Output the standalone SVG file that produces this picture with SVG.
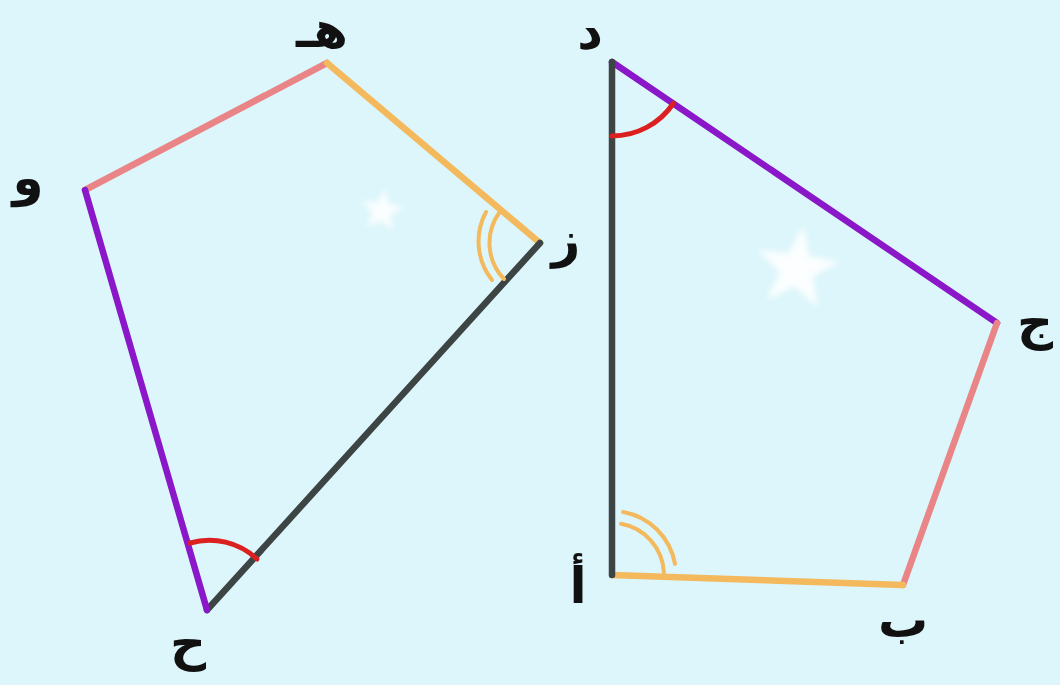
<svg xmlns="http://www.w3.org/2000/svg" xmlns:xlink="http://www.w3.org/1999/xlink" width="1060" height="685" viewBox="0 0 1060 685">
<style>
.edge{fill:none;stroke-width:6.5;stroke-linecap:round;stroke-linejoin:round}
.pink{stroke:#ea8587}
.orange{stroke:#f3b95c}
.purple{stroke:#8a17c8}
.dark{stroke:#3c4444}
.mark{fill:none;stroke-linecap:round}
.red{stroke:#dc1f1f;stroke-width:5}
.dbl{stroke:#f3b95c;stroke-width:4}
.lbl{font-family:"DejaVu Sans",sans-serif;font-weight:bold;font-size:50px;fill:#111;text-anchor:middle;dominant-baseline:central}
</style>
<defs>
<polygon id="star" points="0,-1 0.235,-0.324 0.951,-0.309 0.380,0.124 0.588,0.809 0,0.4 -0.588,0.809 -0.380,0.124 -0.951,-0.309 -0.235,-0.324"/>
<filter id="soft" x="-30%" y="-30%" width="160%" height="160%"><feGaussianBlur stdDeviation="3"/></filter>
</defs>
<rect width="1060" height="685" fill="#dcf6fb"/>
<g filter="url(#soft)" fill="#ffffff" opacity="0.9">
<use xlink:href="#star" transform="translate(382,211) rotate(8) scale(23)"/>
<use xlink:href="#star" transform="translate(797,269) rotate(8) scale(44)"/>
</g>
<g id="connectors">
<line class="edge pink" x1="85" y1="190" x2="327" y2="63"/>
<line class="edge orange" x1="327" y1="63" x2="540" y2="243"/>
<line class="edge dark" x1="540" y1="243" x2="207" y2="610"/>
<line class="edge purple" x1="207" y1="610" x2="85" y2="190"/>
<line class="edge purple" x1="612" y1="62" x2="997" y2="323"/>
<line class="edge pink" x1="997" y1="323" x2="903" y2="585"/>
<line class="edge orange" x1="903" y1="585" x2="612" y2="575"/>
<line class="edge dark" x1="612" y1="575" x2="612" y2="62"/>
</g>
<g id="angle-marks">
<path class="mark dbl" d="M499,213 A52,52 0 0 0 504,279"/>
<path class="mark dbl" d="M486,212 A62,62 0 0 0 492,280"/>
<path class="mark red" d="M612,136 A74,74 0 0 0 673.3,103.5"/>
<path class="mark red" d="M190,543 A70,70 0 0 1 257,559"/>
<path class="mark dbl" d="M621,523.8 A52,52 0 0 1 663.9,572.3"/>
<path class="mark dbl" d="M623.1,512 A64,64 0 0 1 675,563.9"/>
</g>
<g id="node-he"><text class="lbl" x="322" y="30">هـ</text></g>
<g id="node-waw"><text class="lbl" x="28" y="178">و</text></g>
<g id="node-zay"><text class="lbl" x="566" y="240">ز</text></g>
<g id="node-hah"><text class="lbl" x="188" y="643">ح</text></g>
<g id="node-dal"><text class="lbl" x="590" y="32">د</text></g>
<g id="node-jeem"><text class="lbl" x="1035" y="322">ج</text></g>
<g id="node-alef"><text class="lbl" x="578" y="586">أ</text></g>
<g id="node-beh"><text class="lbl" x="903" y="620">ب</text></g>
</svg>
